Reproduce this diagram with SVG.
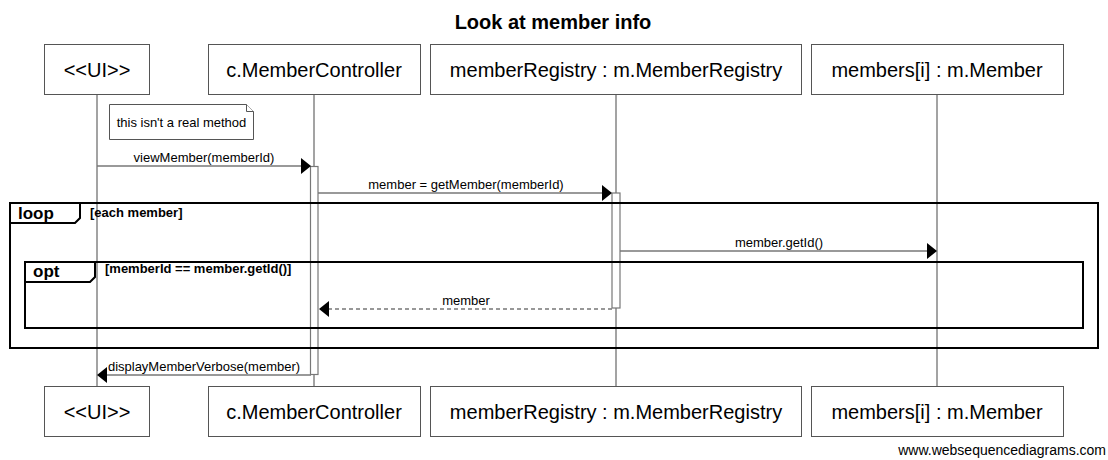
<svg xmlns="http://www.w3.org/2000/svg" width="1108" height="460" viewBox="0 0 1108 460">
<style>
.bg{fill:#fff}
.box{fill:#fff;stroke:#555;stroke-width:1}
.pt{font-family:"Liberation Sans",Arial,sans-serif;font-size:20px;fill:#000;text-anchor:middle}
.life{stroke:#666;stroke-width:1.2;fill:none}
.act{fill:#fff;stroke:#777;stroke-width:1.2}
.msg{stroke:#777;stroke-width:1.6;fill:none}
.dash{stroke-dasharray:4,3}
.head{fill:#000}
.lbl{font-family:"Liberation Sans",Arial,sans-serif;font-size:13px;fill:#000;text-anchor:middle}
.frame{fill:none;stroke:#000;stroke-width:2}
.ftab{fill:#fff;stroke:#000;stroke-width:2}
.fl{font-family:"Liberation Sans",Arial,sans-serif;font-size:17px;font-weight:bold;fill:#000}
.guard{font-family:"Liberation Sans",Arial,sans-serif;font-size:13px;font-weight:bold;fill:#000}
.note{fill:#fff;stroke:#555;stroke-width:1}
</style>
<rect class="bg" x="0" y="0" width="1108" height="460"/>
<text x="553" y="29" font-family="Liberation Sans, Arial, sans-serif" font-size="20" font-weight="bold" text-anchor="middle">Look at member info</text>

<g id="lifelines">
<line class="life" x1="97" y1="94" x2="97" y2="386"/>
<line class="life" x1="314" y1="94" x2="314" y2="386"/>
<line class="life" x1="616" y1="94" x2="616" y2="386"/>
<line class="life" x1="937" y1="94" x2="937" y2="386"/>
</g>

<g id="ui">
<rect class="box" x="44.5" y="44.5" width="105" height="50"/>
<text class="pt" x="97" y="77">&lt;&lt;UI&gt;&gt;</text>
<rect class="box" x="44.5" y="386.5" width="105" height="50"/>
<text class="pt" x="97" y="419">&lt;&lt;UI&gt;&gt;</text>
</g>
<g id="controller">
<rect class="box" x="208.5" y="44.5" width="212" height="50"/>
<text class="pt" x="314" y="77">c.MemberController</text>
<rect class="box" x="208.5" y="386.5" width="212" height="50"/>
<text class="pt" x="314" y="419">c.MemberController</text>
</g>
<g id="registry">
<rect class="box" x="430.5" y="44.5" width="371" height="50"/>
<text class="pt" x="616" y="77">memberRegistry : m.MemberRegistry</text>
<rect class="box" x="430.5" y="386.5" width="371" height="50"/>
<text class="pt" x="616" y="419">memberRegistry : m.MemberRegistry</text>
</g>
<g id="members">
<rect class="box" x="811.5" y="44.5" width="252" height="50"/>
<text class="pt" x="937" y="77">members[i] : m.Member</text>
<rect class="box" x="811.5" y="386.5" width="252" height="50"/>
<text class="pt" x="937" y="419">members[i] : m.Member</text>
</g>

<g id="note">
<path class="note" d="M109.5,104.5 H246.5 L253.5,111.5 V139.5 H109.5 Z"/>
<path class="note" d="M246.5,104.5 V111.5 H253.5"/>
<text x="181.5" y="127" font-family="Liberation Sans, Arial, sans-serif" font-size="13" text-anchor="middle">this isn't a real method</text>
</g>

<g id="activations">
<rect class="act" x="310.5" y="166.5" width="7.5" height="208"/>
<rect class="act" x="612" y="193" width="8" height="115"/>
</g>

<g id="loop">
<rect class="frame" x="10" y="203" width="1088" height="145"/>
<path class="ftab" d="M10,203 H80 V218 L75,223 H10 Z"/>
<text class="fl" x="18" y="219">loop</text>
<text class="guard" x="90" y="217">[each member]</text>
</g>
<g id="opt">
<rect class="frame" x="25" y="262" width="1058" height="66"/>
<path class="ftab" d="M25,262 H95 V277 L90,282 H25 Z"/>
<text class="fl" x="33" y="277">opt</text>
<text class="guard" x="105" y="273">[memberId == member.getId()]</text>
</g>

<g id="connectors">
<line class="msg" x1="97" y1="166" x2="302" y2="166"/>
<polygon class="head" points="301,158 311,166 301,174"/>
<text class="lbl" x="204" y="162">viewMember(memberId)</text>

<line class="msg" x1="318" y1="193" x2="603" y2="193"/>
<polygon class="head" points="602,185 612,193 602,201"/>
<text class="lbl" x="466" y="189">member = getMember(memberId)</text>

<line class="msg" x1="620" y1="251" x2="928" y2="251"/>
<polygon class="head" points="927,243 937,251 927,259"/>
<text class="lbl" x="779" y="247">member.getId()</text>

<line class="msg dash" x1="612" y1="309" x2="327" y2="309"/>
<polygon class="head" points="329,301 319,309 329,317"/>
<text class="lbl" x="466" y="305">member</text>

<line class="msg" x1="311" y1="375" x2="105" y2="375"/>
<polygon class="head" points="107,367 97,375 107,383"/>
<text class="lbl" x="204" y="371">displayMemberVerbose(member)</text>
</g>

<text x="1106" y="455" font-family="Liberation Sans, Arial, sans-serif" font-size="14" text-anchor="end">www.websequencediagrams.com</text>
</svg>
